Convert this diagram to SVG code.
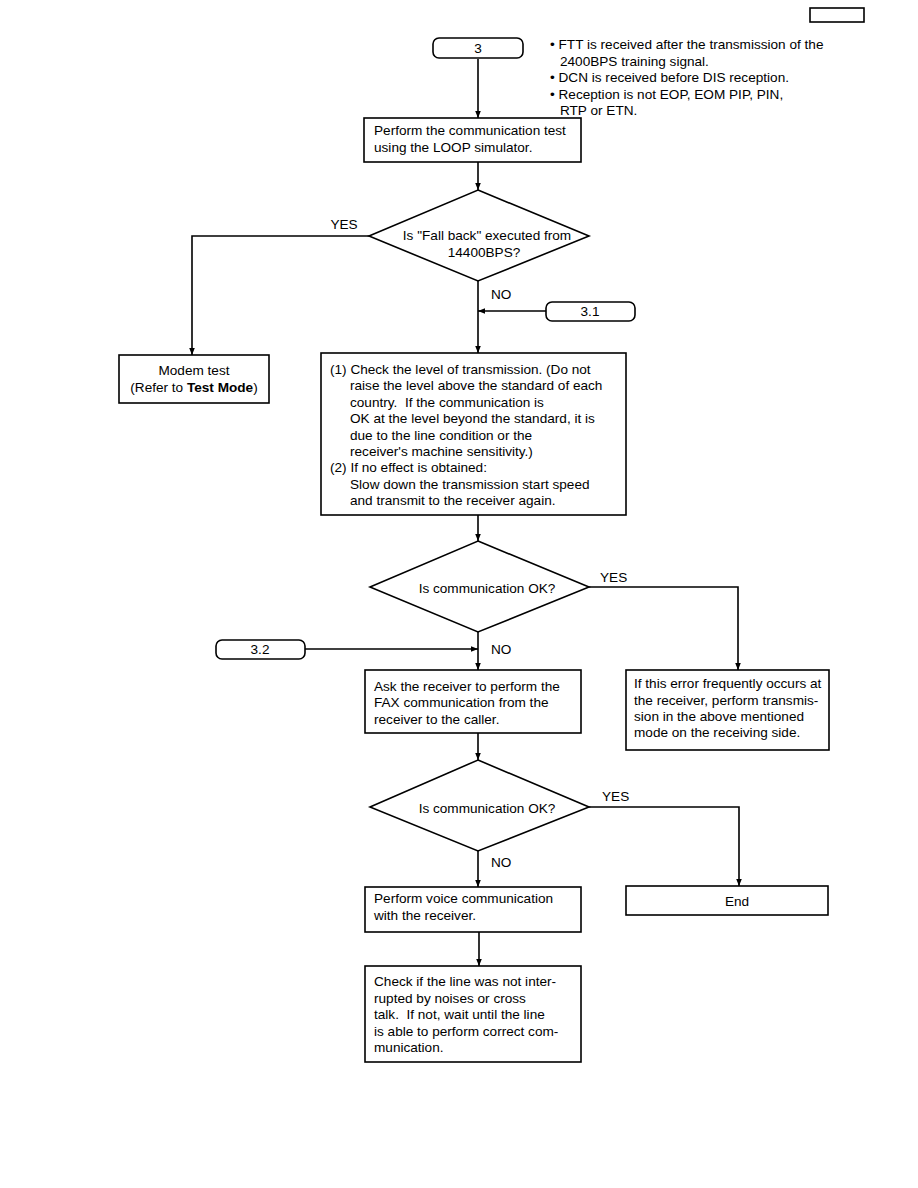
<svg xmlns="http://www.w3.org/2000/svg" width="918" height="1188" viewBox="0 0 918 1188">
<defs>
<marker id="ah" viewBox="0 0 10 10" refX="10" refY="5" markerWidth="7" markerHeight="7" orient="auto" markerUnits="userSpaceOnUse">
<path d="M0,1 L10,5 L0,9 z" fill="#000"/>
</marker>
</defs>
<style>
.b{fill:#fff;stroke:#000;stroke-width:1.6}
.t{font-family:"Liberation Sans",Arial,sans-serif;font-size:13.6px;fill:#000;white-space:pre}
.c{text-anchor:middle}
.l{fill:none;stroke:#000;stroke-width:1.6}
</style>
<rect width="918" height="1188" fill="#fff"/>
<g id="pageTag"><rect class="b" x="810" y="8" width="54" height="14"/></g>

<g id="connectors">
<path class="l" d="M478,59 V118" marker-end="url(#ah)"/>
<path class="l" d="M478,162 V190" marker-end="url(#ah)"/>
<path class="l" d="M369,236 H192 V355" marker-end="url(#ah)"/>
<path class="l" d="M478,281 V353" marker-end="url(#ah)"/>
<path class="l" d="M546,311 H478" marker-end="url(#ah)"/>
<path class="l" d="M478,515 V541" marker-end="url(#ah)"/>
<path class="l" d="M589,587 H738 V670" marker-end="url(#ah)"/>
<path class="l" d="M478,632 V670" marker-end="url(#ah)"/>
<path class="l" d="M305,649 H478" marker-end="url(#ah)"/>
<path class="l" d="M478,733 V760" marker-end="url(#ah)"/>
<path class="l" d="M589,807 H739 V886" marker-end="url(#ah)"/>
<path class="l" d="M478,851 V887" marker-end="url(#ah)"/>
<path class="l" d="M479,932 V966" marker-end="url(#ah)"/>
<text class="t" x="344" y="229" text-anchor="middle">YES</text>
<text class="t" x="491" y="299">NO</text>
<text class="t" x="600" y="582">YES</text>
<text class="t" x="491" y="654">NO</text>
<text class="t" x="602" y="801">YES</text>
<text class="t" x="491" y="867">NO</text>
</g>

<g id="start3">
<rect class="b" x="433" y="38" width="90" height="20" rx="6"/>
<text class="t c" x="478" y="53">3</text>
</g>

<g id="notes">
<text class="t" x="550" y="49">• FTT is received after the transmission of the</text>
<text class="t" x="560" y="66">2400BPS training signal.</text>
<text class="t" x="550" y="82">• DCN is received before DIS reception.</text>
<text class="t" x="550" y="99">• Reception is not EOP, EOM PIP, PIN,</text>
<text class="t" x="560" y="115">RTP or ETN.</text>
</g>

<g id="loopTest">
<rect class="b" x="364" y="118" width="217" height="44"/>
<text class="t" x="374" y="135">Perform the communication test</text>
<text class="t" x="374" y="152">using the LOOP simulator.</text>
</g>

<g id="fallBack">
<polygon class="b" points="478,190 589,236 478,281 369,236"/>
<text class="t c" x="487" y="240">Is "Fall back" executed from</text>
<text class="t c" x="484" y="257">14400BPS?</text>
</g>

<g id="modemTest">
<rect class="b" x="119" y="355" width="150" height="48"/>
<text class="t c" x="194" y="375">Modem test</text>
<text class="t c" x="194" y="392">(Refer to <tspan font-weight="bold">Test Mode</tspan>)</text>
</g>

<g id="conn31">
<rect class="b" x="546" y="302" width="89" height="19" rx="6"/>
<text class="t c" x="590" y="316">3.1</text>
</g>

<g id="checkLevel">
<rect class="b" x="321" y="353" width="305" height="162"/>
<text class="t" x="330" y="374">(1) Check the level of transmission. (Do not</text>
<text class="t" x="350" y="390">raise the level above the standard of each</text>
<text class="t" x="350" y="407">country.  If the communication is</text>
<text class="t" x="350" y="423">OK at the level beyond the standard, it is</text>
<text class="t" x="350" y="440">due to the line condition or the</text>
<text class="t" x="350" y="456">receiver's machine sensitivity.)</text>
<text class="t" x="330" y="472">(2) If no effect is obtained:</text>
<text class="t" x="350" y="489">Slow down the transmission start speed</text>
<text class="t" x="350" y="505">and transmit to the receiver again.</text>
</g>

<g id="commOk1">
<polygon class="b" points="478,541 589,587 478,632 370,587"/>
<text class="t c" x="487" y="593">Is communication OK?</text>
</g>

<g id="frequentError">
<rect class="b" x="626" y="670" width="203" height="80"/>
<text class="t" x="634" y="688">If this error frequently occurs at</text>
<text class="t" x="634" y="705">the receiver, perform transmis-</text>
<text class="t" x="634" y="721">sion in the above mentioned</text>
<text class="t" x="634" y="737">mode on the receiving side.</text>
</g>

<g id="conn32">
<rect class="b" x="216" y="640" width="89" height="19" rx="6"/>
<text class="t c" x="260" y="654">3.2</text>
</g>

<g id="askReceiver">
<rect class="b" x="365" y="670" width="216" height="63"/>
<text class="t" x="374" y="691">Ask the receiver to perform the</text>
<text class="t" x="374" y="707">FAX communication from the</text>
<text class="t" x="374" y="724">receiver to the caller.</text>
</g>

<g id="commOk2">
<polygon class="b" points="478,760 589,807 478,851 370,807"/>
<text class="t c" x="487" y="813">Is communication OK?</text>
</g>

<g id="end">
<rect class="b" x="626" y="886" width="202" height="29"/>
<text class="t c" x="737" y="906">End</text>
</g>

<g id="voiceComm">
<rect class="b" x="365" y="887" width="216" height="45"/>
<text class="t" x="374" y="903">Perform voice communication</text>
<text class="t" x="374" y="920">with the receiver.</text>
</g>

<g id="checkLine">
<rect class="b" x="365" y="966" width="216" height="96"/>
<text class="t" x="374" y="986">Check if the line was not inter-</text>
<text class="t" x="374" y="1003">rupted by noises or cross</text>
<text class="t" x="374" y="1019">talk.  If not, wait until the line</text>
<text class="t" x="374" y="1036">is able to perform correct com-</text>
<text class="t" x="374" y="1052">munication.</text>
</g>
</svg>
